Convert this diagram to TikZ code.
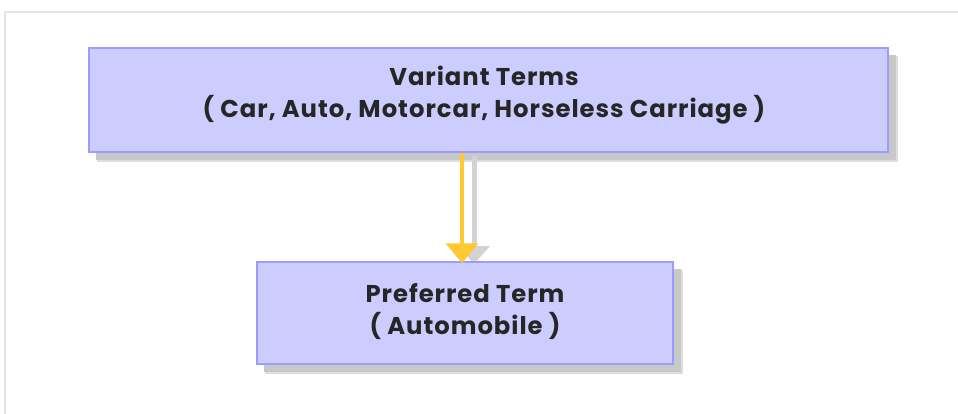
\documentclass[tikz,border=0pt]{standalone}
\usepackage{fontspec}
\setmainfont{Poppins}
\usetikzlibrary{arrows.meta}
\definecolor{boxfill}{HTML}{CCCCFF}
\definecolor{boxline}{HTML}{9C9CFF}
\definecolor{arrowcol}{HTML}{FFC933}
\definecolor{shadowcol}{HTML}{C8C8C8}
\definecolor{framecol}{HTML}{E4E4E4}
\tikzset{
  termbox/.style={draw=boxline, line width=1.5pt, fill=boxfill, inner sep=0pt, align=center,
    font=\bfseries\fontsize{24.3}{32}\selectfont\addfontfeature{LetterSpace=4}, text=black!85},
  termtext/.style={align=center, inner sep=0pt,
    font=\bfseries\fontsize{24.3}{32}\selectfont\addfontfeature{LetterSpace=4}, text=black!85},
}
\begin{document}
\begin{tikzpicture}[x=1pt,y=-1pt]
\useasboundingbox (0,0) rectangle (958,414);
\fill[white] (0,0) rectangle (958,414);
% frame
\draw[framecol, line width=1.5pt] (5,414) -- (5,12) -- (958,12);
% shadows
\fill[shadowcol!60] (97,56) rectangle (898,162);
\fill[shadowcol] (96,55) rectangle (896,160);
\fill[shadowcol!60] (265,270) rectangle (683,374);
\fill[shadowcol] (264,269) rectangle (681,372);
\fill[shadowcol!80] (472,156) rectangle (477,250);
\fill[shadowcol!80] (458,246) -- (490,246) -- (474,264) -- cycle;
% boxes
\node[termbox, minimum width=799pt, minimum height=104pt] (variant) at (488.5,100) {};
\node[termtext] (variantlabel) at (484,95)
  {Variant Terms\\( Car, Auto, Motorcar, Horseless Carriage )};
\node[termbox, minimum width=416pt, minimum height=102pt] (preferred) at (465,313) {};
\node[termtext] (preferredlabel) at (465,312) {Preferred Term\\( Automobile )};
% arrow
\draw[arrowcol, line width=3.5pt, -{Triangle[width=32pt,length=20pt]}] (variant.south -| 462,0) -- ([yshift=-2pt]preferred.north -| 462,0);
\end{tikzpicture}
\end{document}
